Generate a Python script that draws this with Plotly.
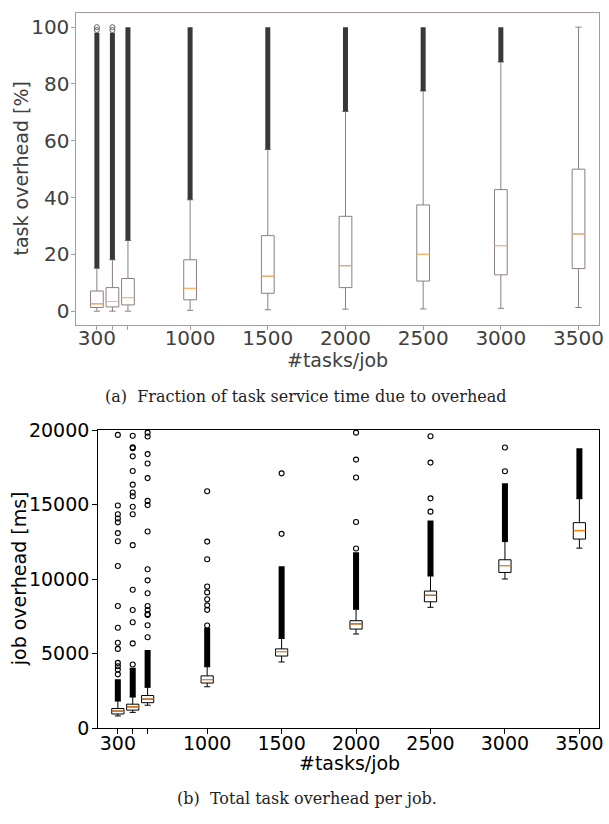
import plotly.graph_objects as go

# ---------------- data ----------------
positions = [400, 500, 600, 1000, 1500, 2000, 2500, 3000, 3500]
tick_labels = ["300", "", "", "1000", "1500", "2000", "2500", "3000", "3500"]

# (a) task overhead [%]
pct_low = [0.0, 0.0, 0.0, 0.3, 0.5, 0.7, 0.8, 1.0, 1.3]
pct_q1 = [1.3, 1.5, 2.2, 4.0, 6.3, 8.3, 10.6, 12.8, 15.0]
pct_median = [2.6, 3.4, 4.8, 8.0, 12.3, 16.0, 20.0, 23.1, 27.2]
pct_q3 = [7.1, 8.3, 11.5, 18.1, 26.6, 33.4, 37.4, 42.8, 50.0]
pct_high = [15.1, 18.1, 24.9, 39.2, 56.9, 70.3, 77.5, 87.7, 100.0]
# dense flier band (top of whisker .. highest dense flier); None = no fliers
pct_dense_top = [98.0, 98.0, 100.0, 100.0, 100.0, 100.0, 100.0, 100.0, None]
pct_sparse_pos = [400, 400, 500, 500]
pct_sparse_val = [100.0, 99.0, 100.0, 99.0]

# (b) job overhead [ms]
ms_low = [830, 1070, 1550, 2790, 4450, 6330, 8120, 10020, 12090]
ms_q1 = [962, 1220, 1720, 3040, 4850, 6660, 8490, 10460, 12700]
ms_median = [1160, 1440, 1960, 3270, 5150, 7010, 8930, 10920, 13270]
ms_q3 = [1330, 1620, 2200, 3520, 5330, 7220, 9210, 11310, 13800]
ms_high = [1830, 2100, 2750, 4130, 6030, 7990, 10220, 12530, 15410]
ms_dense_top = [3300, 4060, 5260, 6750, 10870, 11810, 13950, 16440, 18790]
ms_sparse = {
    400: [19690, 14950, 14360, 14080, 13820, 13100, 12550, 10890, 8210, 6750,
          5740, 5330, 4390, 4170, 3950, 3620],
    500: [19630, 18860, 18800, 18250, 17270, 16350, 15820, 15570, 14870, 14360,
          12290, 9300, 7940, 7120, 5700, 4280],
    600: [19840, 19580, 18400, 17770, 16790, 15260, 14980, 13210, 10670, 9930,
          9060, 8210, 7940, 7660, 7600, 6920, 6110],
    1000: [15910, 12530, 11350, 9520, 9120, 8660, 8250, 7950, 6900],
    1500: [17110, 13050],
    2000: [19840, 18030, 16830, 13840, 12070],
    2500: [19600, 17830, 15430, 14540],
    3000: [18840, 17250],
    3500: [],
}

# ---------------- styles ----------------
A_BOX = "#8c7f7f"
A_FRAME = "#a89a9a"
A_TEXT = "#404040"
A_MED = "#ffb36b"
A_FLY = "#383838"
B_MED = "#ff7f0e"
BOX_W = 82

fig = go.Figure()


def add_box(xa, ya, low, q1, med, q3, high, color, medcolor):
    fig.add_trace(go.Box(
        x=positions, q1=q1, median=med, q3=q3, lowerfence=low, upperfence=high,
        width=BOX_W, whiskerwidth=0.5, boxpoints=False,
        line=dict(color=color, width=1), fillcolor="rgba(0,0,0,0)",
        showlegend=False, hoverinfo="skip", xaxis=xa, yaxis=ya))
    fig.add_trace(go.Box(
        x=positions, q1=med, median=med, q3=med, lowerfence=med, upperfence=med,
        width=BOX_W, whiskerwidth=0.5, boxpoints=False,
        line=dict(color=medcolor, width=1.2), fillcolor="rgba(0,0,0,0)",
        showlegend=False, hoverinfo="skip", xaxis=xa, yaxis=ya))


def dense_band(high, top):
    xs, ys = [], []
    for p, lo, hi in zip(positions, high, top):
        if hi is None:
            continue
        xs += [p, p, None]
        ys += [lo, hi, None]
    return xs, ys


# (a)
xs, ys = dense_band(pct_high, pct_dense_top)
fig.add_trace(go.Scatter(x=xs, y=ys, mode="lines",
                         line=dict(color=A_FLY, width=5),
                         showlegend=False, hoverinfo="skip", xaxis="x", yaxis="y"))
fig.add_trace(go.Scatter(x=pct_sparse_pos, y=pct_sparse_val, mode="markers",
                         marker=dict(symbol="circle-open", size=5, color="#666",
                                     line=dict(width=1)),
                         showlegend=False, hoverinfo="skip", xaxis="x", yaxis="y"))
add_box("x", "y", pct_low, pct_q1, pct_median, pct_q3, pct_high, A_BOX, A_MED)

# (b)
xs, ys = dense_band(ms_high, ms_dense_top)
fig.add_trace(go.Scatter(x=xs, y=ys, mode="lines",
                         line=dict(color="black", width=6),
                         showlegend=False, hoverinfo="skip", xaxis="x2", yaxis="y2"))
sx, sy = [], []
for p, vals in ms_sparse.items():
    sx += [p] * len(vals)
    sy += vals
fig.add_trace(go.Scatter(x=sx, y=sy, mode="markers",
                         marker=dict(symbol="circle-open", size=5, color="black",
                                     line=dict(width=1.1)),
                         showlegend=False, hoverinfo="skip", xaxis="x2", yaxis="y2"))
add_box("x2", "y2", ms_low, ms_q1, ms_median, ms_q3, ms_high, "black", B_MED)

W, H = 609, 824
font = "DejaVu Sans"

fig.update_layout(
    width=W, height=H, margin=dict(l=0, r=0, t=0, b=0),
    paper_bgcolor="white", plot_bgcolor="white",
    boxmode="overlay",
    font=dict(family=font, size=19),
    xaxis=dict(domain=[77 / W, 604 / W], anchor="y", range=[268, 3632],
               tickvals=positions, ticktext=tick_labels, ticks="outside",
               ticklen=4, tickcolor=A_FRAME, showline=True, mirror=True,
               linecolor=A_FRAME, linewidth=1, showgrid=False, zeroline=False,
               ticklabelstandoff=-9,
               tickfont=dict(color=A_TEXT, size=20)),
    yaxis=dict(domain=[1 - 323 / H, 1 - 2 / H], anchor="x", range=[-5, 105],
               tickvals=[0, 20, 40, 60, 80, 100], ticks="outside", ticklen=4,
               tickcolor=A_FRAME, showline=True, mirror=True, linecolor=A_FRAME,
               linewidth=1, showgrid=False, zeroline=False, ticklabelstandoff=-2,
               tickfont=dict(color=A_TEXT, size=20)),
    xaxis2=dict(domain=[99 / W, 604 / W], anchor="y2", range=[268, 3632],
                tickvals=positions, ticktext=tick_labels, ticks="outside",
                ticklen=5, tickcolor="black", showline=True, mirror=True,
                linecolor="black", linewidth=1, showgrid=False, zeroline=False,
                ticklabelstandoff=-7,
                tickfont=dict(color="black", size=19)),
    yaxis2=dict(domain=[1 - 737 / H, 1 - 430 / H], anchor="x2", range=[0, 20050],
                tickvals=[0, 5000, 10000, 15000, 20000], tickformat="d",
                ticks="outside", ticklen=5, tickcolor="black", showline=True,
                mirror=True, linecolor="black", linewidth=1, showgrid=False,
                zeroline=False, ticklabelstandoff=-1,
                tickfont=dict(color="black", size=19)),
)

ann = [
    dict(text="task overhead [%]", x=21 / W, y=1 - 162 / H, textangle=-90,
         font=dict(family=font, size=19, color=A_TEXT)),
    dict(text="#tasks/job", x=340 / W, y=1 - 359 / H,
         font=dict(family=font, size=19, color=A_TEXT)),
    dict(text="(a)  Fraction of task service time due to overhead", x=308 / W,
         y=1 - 396 / H, font=dict(family="DejaVu Serif", size=16, color="#222")),
    dict(text="job overhead [ms]", x=20 / W, y=1 - 583 / H, textangle=-90,
         font=dict(family=font, size=19, color="black")),
    dict(text="#tasks/job", x=352 / W, y=1 - 773 / H,
         font=dict(family=font, size=19, color="black")),
    dict(text="(b)  Total task overhead per job.", x=310 / W, y=1 - 809 / H,
         font=dict(family="DejaVu Serif", size=16, color="#222")),
]
for a in ann:
    a.update(xref="paper", yref="paper", showarrow=False,
             xanchor="center", yanchor="middle")
fig.update_layout(annotations=ann)

fig.write_html("out.html")
